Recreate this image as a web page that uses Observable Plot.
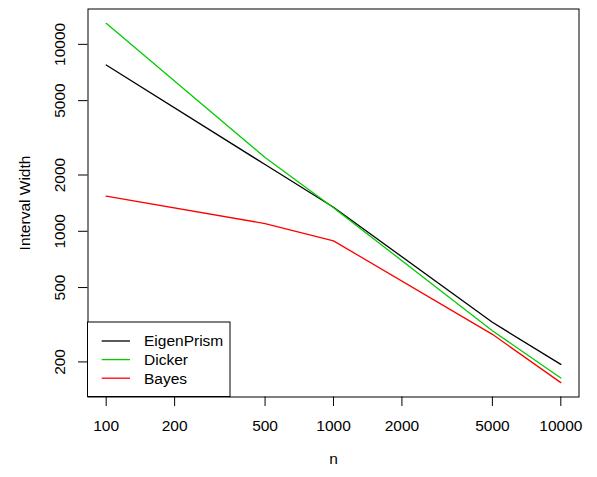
<!DOCTYPE html>
<html>
<head>
<meta charset="utf-8">
<script src="https://cdn.jsdelivr.net/npm/d3@7"></script>
<script src="https://cdn.jsdelivr.net/npm/@observablehq/plot@0.6"></script>
<style>
  html, body { margin: 0; padding: 0; background: #fff; }
  #chart svg { display: block; }
</style>
</head>
<body>
<div id="chart"></div>
<script>
// Sample sizes and interval widths for the three estimators
const n = [100, 500, 1000, 5000, 10000];
const eigenPrism = [7750, 2275, 1345, 326, 194];
const dicker = [12950, 2480, 1335, 294, 164];
const bayes = [1540, 1100, 889, 281, 155];

const seriesNames = ["EigenPrism", "Dicker", "Bayes"];
const seriesColors = ["#000000", "#00CD00", "#FF0000"];

const xTicks = [100, 200, 500, 1000, 2000, 5000, 10000];
const yTicks = [200, 500, 1000, 2000, 5000, 10000];

// Long-format table for Plot
const rows = [];
[eigenPrism, dicker, bayes].forEach((vals, s) => {
  vals.forEach((v, i) => rows.push({n: n[i], width: v, series: seriesNames[s]}));
});

// Log domains padded by 4% on each side, like R's default axis style
function padLog(values) {
  const lo = Math.log10(d3.min(values)), hi = Math.log10(d3.max(values));
  const pad = (hi - lo) * 0.04;
  return [Math.pow(10, lo - pad), Math.pow(10, hi + pad)];
}
const allWidths = rows.map(d => d.width);

const font = "'Liberation Sans', Arial, Helvetica, sans-serif";
const fs = 15.5;

const chart = Plot.plot({
  width: 597,
  height: 477,
  marginLeft: 87.5,
  marginRight: 18.5,
  marginTop: 8.5,
  marginBottom: 80.5,
  style: {fontFamily: font, fontSize: fs + "px", background: "#fff", color: "#000"},
  x: {type: "log", domain: padLog(n)},
  y: {type: "log", domain: padLog(allWidths)},
  color: {domain: seriesNames, range: seriesColors},
  marks: [
    Plot.line(rows, {x: "n", y: "width", z: "series", stroke: "series", strokeWidth: 1.3}),
    Plot.frame({stroke: "#000", strokeWidth: 1}),
    Plot.axisX({ticks: xTicks, tickFormat: d => String(d), tickSize: 9.5, tickPadding: 13.5,
      fontSize: fs, label: null, stroke: "#000"}),
    Plot.axisY({ticks: yTicks, tickFormat: () => "", tickSize: 9.5, label: null, stroke: "#000"}),
    Plot.text(yTicks, {y: d => d, text: d => String(d), frameAnchor: "left", dx: -27.5,
      rotate: -90, textAnchor: "middle", fontSize: fs, fill: "#000"}),
    Plot.text(["Interval Width"], {frameAnchor: "left", dx: -62.5, rotate: -90,
      textAnchor: "middle", fontSize: fs, fill: "#000"}),
    Plot.text(["n"], {frameAnchor: "bottom", dy: 67, textAnchor: "middle", fontSize: fs, fill: "#000"})
  ]
});

document.getElementById("chart").appendChild(chart);

// Legend box in the bottom-left corner of the panel
const svg = d3.select(chart);
const xs = chart.scale("x").range;
const ys = chart.scale("y").range;
const left = Math.min(...xs), bottom = Math.max(...ys);
const boxW = 142.5, boxH = 74.5;
const g = svg.append("g");
g.append("rect")
  .attr("x", left).attr("y", bottom - boxH)
  .attr("width", boxW).attr("height", boxH)
  .attr("fill", "#fff").attr("stroke", "#000").attr("stroke-width", 1);
seriesNames.forEach((name, i) => {
  const cy = bottom - boxH + 19 + i * 18.6;
  g.append("line")
    .attr("x1", left + 14.2).attr("x2", left + 42.5)
    .attr("y1", cy).attr("y2", cy)
    .attr("stroke", seriesColors[i]).attr("stroke-width", 1.3);
  g.append("text")
    .attr("x", left + 56.5).attr("y", cy).attr("dy", "0.35em")
    .attr("text-anchor", "start")
    .attr("font-family", font).attr("font-size", fs).attr("fill", "#000")
    .text(name);
});
</script>
</body>
</html>
